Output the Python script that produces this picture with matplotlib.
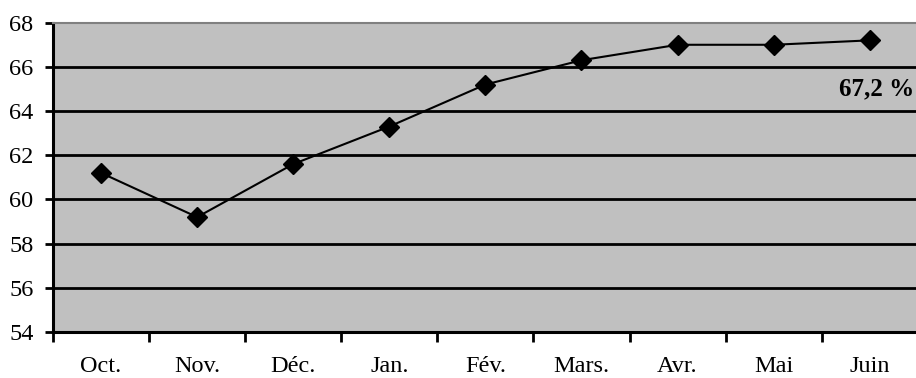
import numpy as np
import matplotlib
matplotlib.use('Agg')
import matplotlib.pyplot as plt

# monthly values
months = ['Oct.', 'Nov.', 'Déc.', 'Jan.', 'Fév.', 'Mars.', 'Avr.', 'Mai', 'Juin']
values = [61.2, 59.2, 61.6, 63.3, 65.2, 66.3, 67.0, 67.0, 67.2]
yticks = [54, 56, 58, 60, 62, 64, 66, 68]
last_label = '67,2 %'

plt.rcParams['font.family'] = ['Liberation Serif', 'DejaVu Serif']

fig = plt.figure(figsize=(9.16, 3.78), dpi=100)
ax = fig.add_axes([0.0579, 0.1217, 0.944, 0.8183])
ax.set_facecolor('#C0C0C0')

x = np.arange(len(months))

# horizontal gridlines (black)
for yv in yticks[1:-1]:
    ax.axhline(yv, color='black', linewidth=2.0, zorder=1)

ax.plot(x, values, color='black', linewidth=1.5, marker='D', markersize=10,
        markerfacecolor='black', markeredgecolor='black', zorder=3)

ax.text(8.46, 65.0, last_label, ha='right', va='center', fontsize=18,
        fontweight='bold', zorder=4)

ax.set_xlim(-0.5, len(months) - 0.5)
ax.set_ylim(54, 68)

# ticks at category boundaries, labels at centres
ax.set_xticks(np.arange(len(months) + 1) - 0.5)
ax.set_xticklabels([])
ax.set_xticks(x, minor=True)
ax.set_xticklabels(months, minor=True, fontsize=17.5)
ax.tick_params(axis='x', which='major', direction='out', length=7, width=2, color='black')
ax.tick_params(axis='x', which='minor', length=0, pad=17)

ax.set_yticks(yticks)
ax.set_yticklabels([str(v) for v in yticks], fontsize=17.5)
ax.tick_params(axis='y', direction='out', length=6, width=2, pad=8, color='black')

for side in ['left', 'bottom']:
    ax.spines[side].set_color('black')
    ax.spines[side].set_linewidth(2.2)
ax.spines['top'].set_color('#808080')
ax.spines['top'].set_linewidth(1.5)
ax.spines['right'].set_visible(False)

fig.savefig('out.png', dpi=100)
